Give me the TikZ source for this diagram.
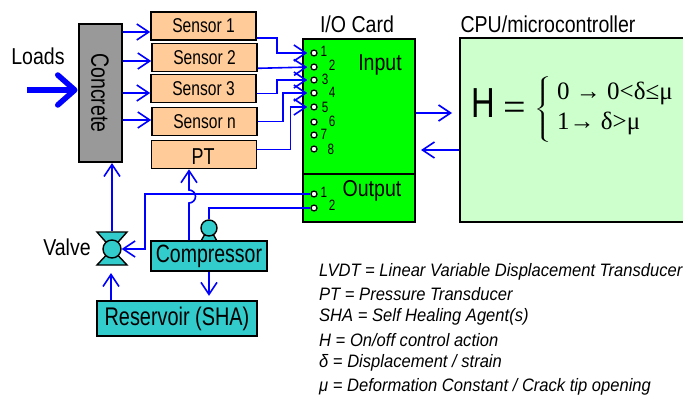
\documentclass[tikz,border=0pt]{standalone}
\usepackage{fontspec}
\setmainfont{Liberation Sans}[FakeStretch=0.78]
\newfontfamily\titlefont{Liberation Sans}[FakeStretch=0.85]
\newfontfamily\legendfont{Liberation Sans}[FakeStretch=0.92]
\newfontfamily\timesfont{Liberation Serif}
\usetikzlibrary{arrows.meta}
\usetikzlibrary{positioning}
\definecolor{sensorfill}{RGB}{255,204,153}
\definecolor{tealfill}{RGB}{51,204,204}
\definecolor{cardfill}{RGB}{0,255,0}
\definecolor{cpufill}{RGB}{204,255,204}
\definecolor{wireblue}{RGB}{0,0,255}
\tikzstyle{sensor} = [rectangle, minimum width=105pt, minimum height=28pt, inner sep=0pt, text centered, draw=black, line width=1.6pt, fill=sensorfill, font=\fontsize{20}{22}\selectfont]
\tikzstyle{tealbox} = [rectangle, inner sep=0pt, text centered, draw=black, line width=1.6pt, fill=tealfill, font=\fontsize{25}{27}\selectfont]
\tikzstyle{pin} = [circle, minimum size=6pt, inner sep=0pt, draw=black, line width=1.3pt, fill=white]
\tikzstyle{pinlabel} = [inner sep=0pt, font=\fontsize{15}{16}\selectfont]
\tikzstyle{title} = [inner sep=0pt, font=\titlefont\fontsize{23}{25}\selectfont]
\tikzstyle{legend} = [anchor=west, inner sep=0pt, font=\legendfont\itshape\fontsize{18}{20}\selectfont]
\tikzstyle{formula} = [anchor=west, inner sep=0pt, font=\timesfont\fontsize{25}{27}\selectfont]
\tikzstyle{arrow} = [wireblue, line width=1.6pt, ->, >={Straight Barb[length=12pt,width=16pt,line width=1.6pt]}]
\begin{document}
\begin{tikzpicture}[x=1pt, y=-1pt, node distance=31pt]
            \useasboundingbox (0,0) rectangle (683,399);
            \node (concrete) [rectangle, minimum width=43pt, minimum height=138pt, inner sep=0pt, draw=black, line width=2pt, fill=black!40] at (100,93) {\rotatebox{-90}{\fontsize{25}{27}\selectfont Concrete}};
            \node (loads) [title] at (38,56) {Loads};
            \coordinate (loadsTail) at (27,90);

            \node (sensor1) [sensor] at (203.5,26) {Sensor 1};
            \node (sensor2) [sensor, below of=sensor1, xshift=1pt, yshift=-0.5pt] {Sensor 2};
            \node (sensor3) [sensor, below of=sensor2, xshift=-1pt, yshift=0pt] {Sensor 3};
            \node (sensorn) [sensor, below of=sensor3, xshift=1pt, yshift=-2pt] {Sensor n};
            \node (PT) [sensor, below of=sensorn, xshift=-0.5pt, yshift=-2pt] {};
            \node (PTlabel) [inner sep=0pt, font=\fontsize{23}{25}\selectfont] at (203,157) {PT};

            \node (card) [rectangle, minimum width=112pt, minimum height=135pt, inner sep=0pt, draw=black, line width=2pt, fill=cardfill] at (359,106.5) {};
            \node (cardOut) [rectangle, minimum width=112pt, minimum height=48pt, inner sep=0pt, draw=black, line width=2pt, fill=cardfill, below=-2pt of card] {};
            \node (cardTitle) [title] at (357,24) {I/O Card};
            \node (inputLabel) [title] at (380,65) {Input};
            \node (outputLabel) [title] at (372,191) {Output};

            \node (pin1) [pin] at (314,53) {};
            \node (pin2) [pin] at (314,67) {};
            \node (pin3) [pin] at (314,80) {};
            \node (pin4) [pin] at (314,93) {};
            \node (pin5) [pin] at (314,107) {};
            \node (pin6) [pin] at (314,122) {};
            \node (pin7) [pin] at (314,135) {};
            \node (pin8) [pin] at (314,149) {};
            \node (out1) [pin] at (314,194) {};
            \node (out2) [pin] at (314,208) {};
            \node (num1) [pinlabel] at (324,51) {1};
            \node (num2) [pinlabel] at (332,65) {2};
            \node (num3) [pinlabel] at (325,79) {3};
            \node (num4) [pinlabel] at (332,92) {4};
            \node (num5) [pinlabel] at (325,107) {5};
            \node (num6) [pinlabel] at (332,121) {6};
            \node (num7) [pinlabel] at (324,134) {7};
            \node (num8) [pinlabel] at (331,149) {8};
            \node (numOut1) [pinlabel] at (324,192) {1};
            \node (numOut2) [pinlabel] at (332,205) {2};

            \node (cpu) [rectangle, minimum width=226pt, minimum height=184pt, inner sep=0pt, draw=black, line width=2pt, fill=cpufill] at (573,130) {};
            \node (cpuTitle) [title] at (548,24) {CPU/microcontroller};
            \node (formulaH) [inner sep=0pt, font=\fontsize{42}{44}\selectfont] at (483,103) {H};
            \node (formulaEq) [inner sep=0pt, font=\timesfont\fontsize{40}{42}\selectfont] at (515,111) {=};
            \node (formulaBrace) [inner sep=0pt] at (544,109) {\scalebox{2}[1]{$\left\{\rule{0pt}{36pt}\right.$}};
            \node (formulaA) [formula] at (557,93) {0 → 0<δ≤μ};
            \node (formulaB) [formula] at (557,123) {1→ δ>μ};

            \coordinate (valveCenter) at (112,249);
            \draw[black, line width=1.4pt, fill=tealfill] (valveCenter) -- ++(-15,-17) -- ++(30,0) -- cycle;
            \draw[black, line width=1.4pt, fill=tealfill] (valveCenter) -- ++(-15,16) -- ++(30,0) -- cycle;
            \node (valve) [circle, minimum size=18pt, inner sep=0pt, draw=black, line width=1.4pt, fill=tealfill] at (valveCenter) {};
            \node (valveLabel) [title] at (67,247) {Valve};

            \coordinate (motorCenter) at (209,228);
            \draw[black, line width=1.4pt, fill=tealfill] (motorCenter) ++(-8,13) -- ++(4,-7) -- ++(8,0) -- ++(4,7);
            \node (motor) [circle, minimum size=16pt, inner sep=0pt, draw=black, line width=1.4pt, fill=tealfill] at (motorCenter) {};
            \node (compressor) [tealbox, minimum width=116pt, minimum height=30pt] at (209,256) {Compressor};
            \node (reservoir) [tealbox, minimum width=160pt, minimum height=35pt, font=\fontsize{25.5}{27}\selectfont] at (177,318.5) {Reservoir (SHA)};

            \node (legend1) [legend] at (319,272) {LVDT = Linear Variable Displacement Transducer};
            \node (legend2) [legend] at (319,294) {PT = Pressure Transducer};
            \node (legend3) [legend] at (319,317) {SHA = Self Healing Agent(s)};
            \node (legend4) [legend] at (319,340) {H = On/off control action};
            \node (legend5) [legend] at (319,363) {δ = Displacement / strain};
            \node (legend6) [legend] at (319,387) {μ = Deformation Constant / Crack tip opening};

            \draw[wireblue, line width=5.5pt, ->, >={Straight Barb[length=17pt,width=30pt,line width=5.5pt,round]}] (loadsTail) -- (concrete.west |- loadsTail);

            \draw[arrow] (concrete.east |- 0,32) -- (sensor1.west |- 0,32);
            \draw[arrow] (concrete.east |- 0,61) -- (sensor2.west |- 0,61);
            \draw[arrow] (concrete.east |- 0,93) -- (sensor3.west |- 0,93);
            \draw[arrow] (concrete.east |- 0,120) -- (sensorn.west |- 0,120);

            \draw[arrow, shorten >=3pt] ([yshift=3pt]sensor1.south east) -- ++(20,0) |- (pin1);
            \draw[arrow, shorten >=3pt] ([yshift=4pt]sensor2.south east) -- (pin2.west |- 0,67);
            \draw[arrow, shorten >=3pt] ([yshift=10pt]sensor3.south east) -- ++(20,0) |- (pin3);
            \draw[arrow, shorten >=3pt] ([yshift=15pt]sensorn.south east) -- ++(25,0) |- (pin4);
            \draw[arrow, shorten >=3pt] ([yshift=20pt]PT.south east) -- ++(33,0) |- (pin5);

            \draw[arrow] (card.east |- 0,113) -- ++(36,0);
            \draw[arrow] (cpu.west |- 0,150) -- ++(-38,0);

            \coordinate (outCorner) at (145,194);
            \draw[arrow] (out1.west) -- (outCorner) |- (valve.east);
            \draw[wireblue, line width=1.6pt] (out2.west) -| (motor.north);

            \coordinate (hopLow) at (189,203);
            \draw[arrow] (compressor.north -| hopLow) -- (hopLow) arc[start angle=-90, end angle=90, radius=6.5pt] -- (PT.south -| hopLow);

            \draw[arrow] (valve.north |- 0,231) -- (concrete.south -| valve);
            \draw[arrow] (compressor.south) -- ++(0,24);
            \draw[arrow] (reservoir.north -| 111,0) -- (111,273);
\end{tikzpicture}
\end{document}
